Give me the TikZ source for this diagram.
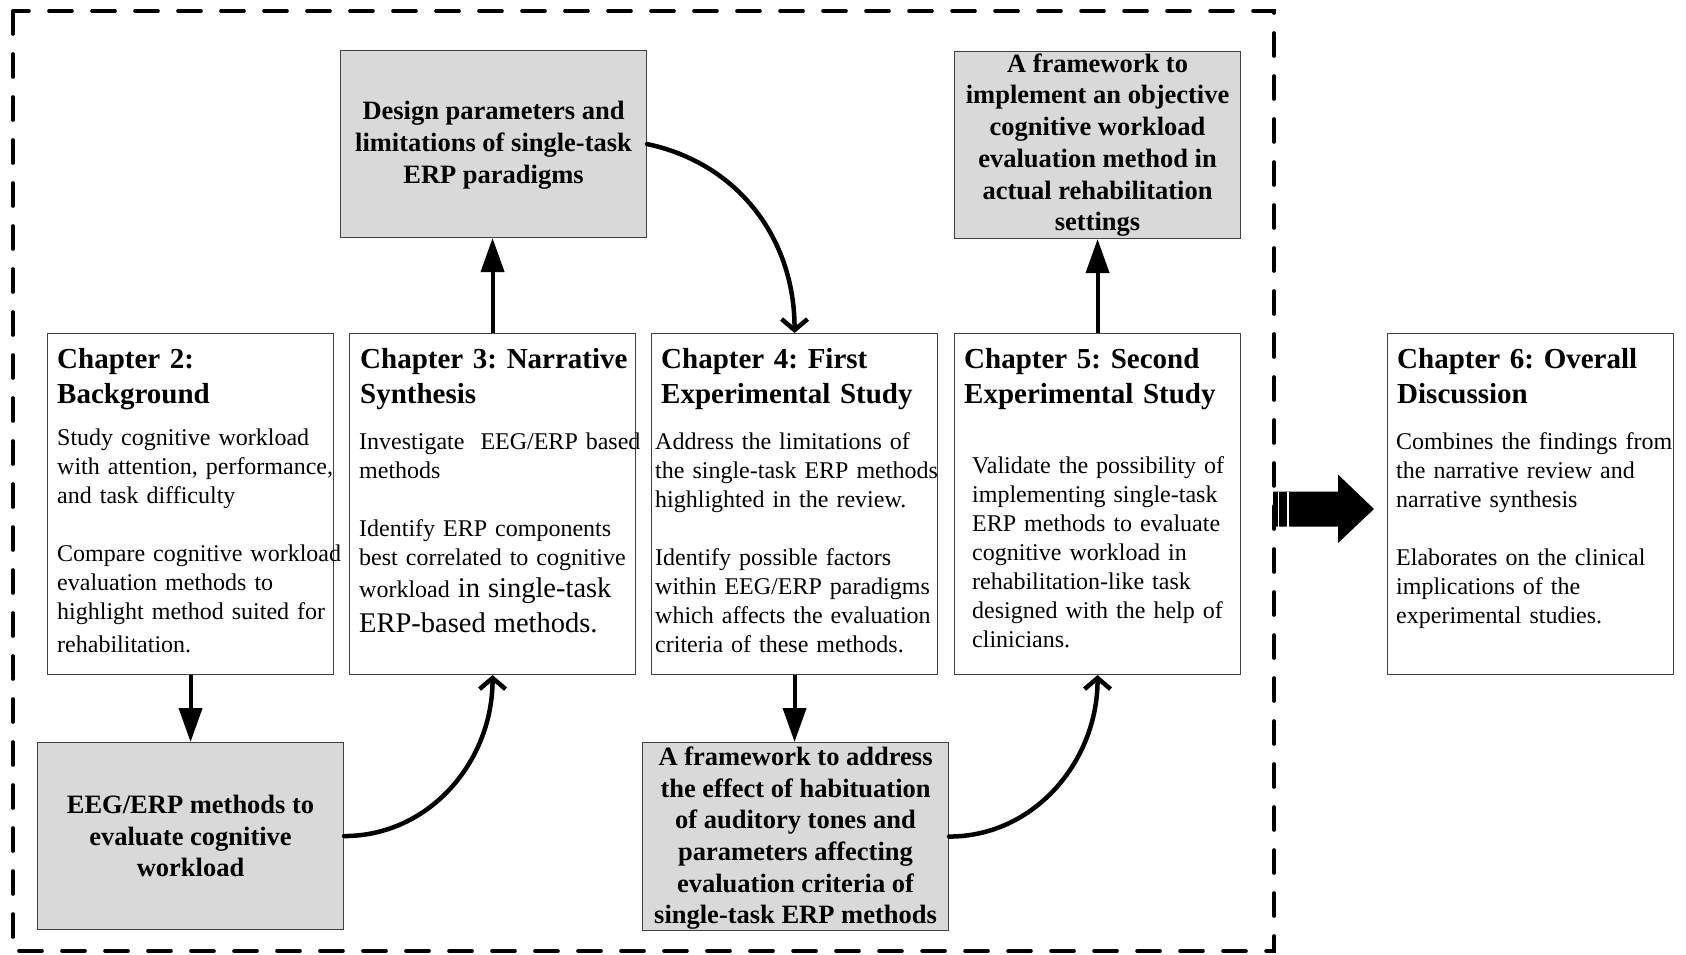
\documentclass[tikz,border=0pt]{standalone}
\usepackage{fontspec}
\setmainfont{Liberation Serif}
\usetikzlibrary{arrows.meta}
\frenchspacing

\tikzset{
  chapbox/.style={draw=black!75, line width=1.1pt, minimum width=286pt,
    minimum height=341pt, inner sep=0pt, anchor=north west},
  graybox/.style={draw=black!75, fill=black!15, line width=1.1pt, inner sep=0pt,
    align=center, anchor=north west,
    font=\fontsize{26.5}{31.7}\selectfont\bfseries\frenchspacing},
  chaptitle/.style={anchor=base west, inner sep=0pt, align=left, text width=320pt,
    font=\fontsize{29}{35.5}\selectfont\bfseries\frenchspacing},
  chapbody/.style={anchor=base west, inner sep=0pt, align=left, text width=320pt,
    font=\fontsize{24}{29}\selectfont\frenchspacing},
  flow/.style={line width=4pt, -{Triangle[length=34pt,width=23pt]}},
  curvearrow/.style={line width=4.5pt, line cap=round,
    -{Straight Barb[length=11pt,width=26pt]}},
  groupframe/.style={line width=3.6pt, line cap=round, dash pattern=on 23pt off 20pt},
}
\newcommand{\bigger}{\fontsize{28.5}{34}\selectfont}

\begin{document}
\begin{tikzpicture}[x=1pt, y=-1pt]
\useasboundingbox (0,0) rectangle (1686,955);

% dashed frame around chapters 2 to 5
\draw[groupframe] (13,11) rectangle (1274,951);

% chapter boxes
\node[chapbox] (ch2) at (47,333) {};
\node[chapbox] (ch3) at (349,333) {};
\node[chapbox] (ch4) at (651,333) {};
\node[chapbox] (ch5) at (954,333) {};
\node[chapbox] (ch6) at (1387,333) {};

% outcome boxes
\node[graybox, minimum width=306pt, minimum height=187pt] (design) at (340,50)
  {\rule{0pt}{21pt}Design parameters and\\limitations of single-task\\ERP paradigms};
\node[graybox, minimum width=286pt, minimum height=187pt] (fwtop) at (954,51)
  {A framework to\\implement an objective\\cognitive workload\\evaluation method in\\actual rehabilitation\\settings};
\node[graybox, minimum width=306pt, minimum height=187pt] (eeg) at (37,742)
  {EEG/ERP methods to\\evaluate cognitive\\workload};
\node[graybox, minimum width=306pt, minimum height=188pt] (fwbot) at (642,742)
  {\rule{0pt}{22pt}A framework to address\\the effect of habituation\\of auditory tones and\\parameters affecting\\evaluation criteria of\\single-task ERP methods};

% chapter titles
\node[chaptitle] (ch2t) at ([shift={(10,35)}]ch2.north west) {Chapter 2:\\Background};
\node[chaptitle] (ch3t) at ([shift={(11,35)}]ch3.north west) {Chapter 3: Narrative\\Synthesis};
\node[chaptitle] (ch4t) at ([shift={(10,35)}]ch4.north west) {Chapter 4: First\\Experimental Study};
\node[chaptitle] (ch5t) at ([shift={(10,35)}]ch5.north west) {Chapter 5: Second\\Experimental Study};
\node[chaptitle] (ch6t) at ([shift={(10,35)}]ch6.north west) {Chapter 6: Overall\\Discussion};

% chapter contents
\node[chapbody] (ch2b) at ([shift={(10,112)}]ch2.north west)
  {Study cognitive workload\\with attention, performance,\\and task difficulty\\[29pt]
   Compare cognitive workload\\evaluation methods to\\highlight method suited for\\[4pt]
   rehabilitation.};
\node[chapbody] (ch3b) at ([shift={(10,116)}]ch3.north west)
  {Investigate\ \ EEG/ERP based\\methods\\[29pt]
   Identify ERP components\\best correlated to cognitive\\[3pt]
   workload {\bigger in single-task}\\[6pt]
   {\bigger ERP-based methods.}};
\node[chapbody] (ch4b) at ([shift={(4,116)}]ch4.north west)
  {Address the limitations of\\the single-task ERP methods\\highlighted in the review.\\[29pt]
   Identify possible factors\\within EEG/ERP paradigms\\which affects the evaluation\\criteria of these methods.};
\node[chapbody] (ch5b) at ([shift={(18,140)}]ch5.north west)
  {Validate the possibility of\\implementing single-task\\ERP methods to evaluate\\cognitive workload in\\rehabilitation-like task\\designed with the help of\\clinicians.};
\node[chapbody] (ch6b) at ([shift={(9,116)}]ch6.north west)
  {Combines the findings from\\the narrative review and\\narrative synthesis\\[29pt]
   Elaborates on the clinical\\implications of the\\experimental studies.};

% straight connectors
\draw[flow] (ch2.south) -- (ch2.south |- eeg.north);
\draw[flow] (ch3.north) -- (ch3.north |- design.south);
\draw[flow] (ch5.north) -- (ch5.north |- fwtop.south);
\draw[flow] (ch4.south) -- (ch4.south |- fwbot.north);

% curved connectors
\draw[curvearrow] (design.east) to[out=-12, in=90] (ch4.north);
\draw[curvearrow] (eeg.east) to[out=0, in=-90] (ch3.south);
\draw[curvearrow] (fwbot.east) to[out=0, in=-90] (ch5.south);

% striped block arrow towards the overall discussion
\coordinate (bigA) at (1273,509);
\fill[black] (bigA) ++(0,-17.5) -- ++(65,0) -- ++(0,-17) -- (1374,509)
  -- (1338,543) -- (1338,526.5) -- (1273,526.5) -- cycle;
\fill[white] (1277.7,491.5) rectangle (1279.2,526.5);
\fill[white] (1286.7,491.5) rectangle (1288.5,526.5);
\end{tikzpicture}
\end{document}
